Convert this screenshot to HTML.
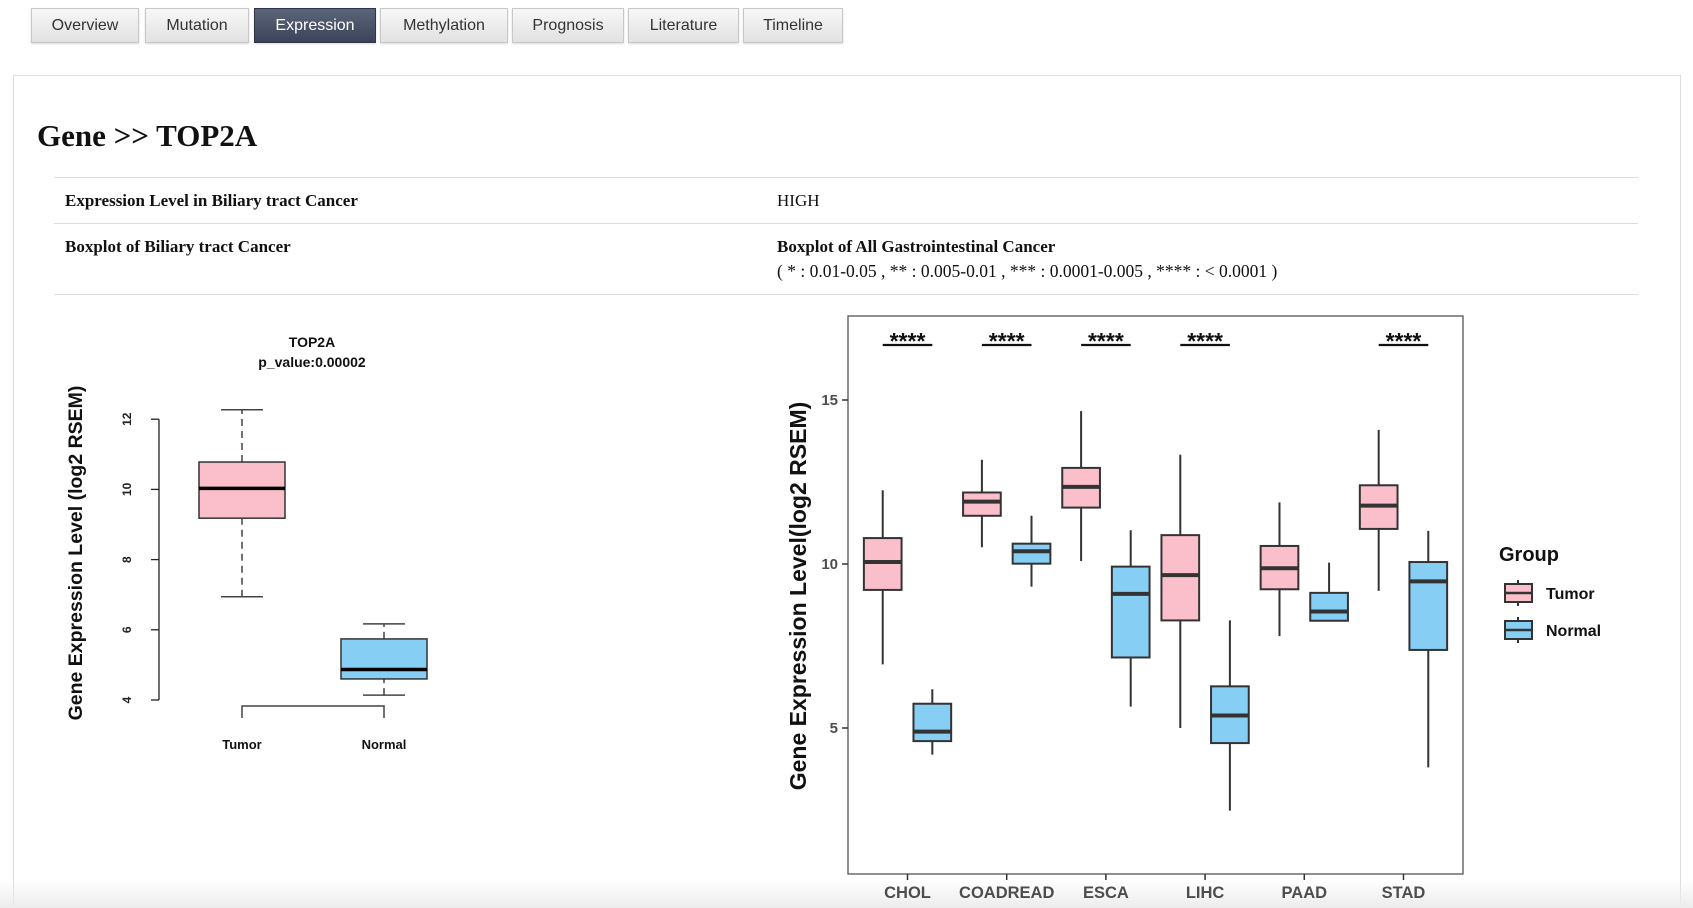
<!DOCTYPE html>
<html><head><meta charset="utf-8"><style>
html,body{margin:0;width:1693px;height:908px;overflow:hidden;background:#fff;font-family:"Liberation Sans",sans-serif;position:relative}
.tab{position:absolute;top:8px;height:35px;box-sizing:border-box;border:1px solid #c8c8c8;background:linear-gradient(#f7f7f7,#e2e2e2);color:#333;font-size:16px;line-height:33px;text-align:center;box-shadow:0 1px 2px rgba(0,0,0,.15)}
.tab.active{background:linear-gradient(#5b6579,#3b4458);color:#fff;border-color:#2f3747}
.panel{position:absolute;left:13px;top:75px;width:1668px;height:833px;border:1px solid #ddd;border-bottom:none;box-sizing:border-box}
.serif{font-family:"Liberation Serif",serif;position:absolute;color:#111}
.rule{position:absolute;left:54px;width:1584px;height:1px;background:#ddd}
.foot{position:absolute;left:0;top:880px;width:1693px;height:28px;background:linear-gradient(rgba(240,240,240,0),#ececec)}
</style></head><body>
<div class="tab" style="left:31px;width:108px">Overview</div>
<div class="tab" style="left:145px;width:104px">Mutation</div>
<div class="tab active" style="left:254px;width:122px">Expression</div>
<div class="tab" style="left:380px;width:128px">Methylation</div>
<div class="tab" style="left:512px;width:112px">Prognosis</div>
<div class="tab" style="left:628px;width:111px">Literature</div>
<div class="tab" style="left:743px;width:100px">Timeline</div>
<div class="panel"></div>
<div class="serif" style="left:37px;top:118px;font-size:31px;font-weight:bold">Gene &gt;&gt; TOP2A</div>
<div class="rule" style="top:177px"></div>
<div class="serif" style="left:65px;top:191px;font-size:17px;font-weight:bold">Expression Level in Biliary tract Cancer</div>
<div class="serif" style="left:777px;top:191px;font-size:17px">HIGH</div>
<div class="rule" style="top:223px"></div>
<div class="serif" style="left:65px;top:237px;font-size:17px;font-weight:bold">Boxplot of Biliary tract Cancer</div>
<div class="serif" style="left:777px;top:237px;font-size:17px;font-weight:bold">Boxplot of All Gastrointestinal Cancer</div>
<div class="serif" style="left:777px;top:261px;font-size:17.5px">( * : 0.01-0.05 , ** : 0.005-0.01 , *** : 0.0001-0.005 , **** : &lt; 0.0001 )</div>
<div class="rule" style="top:294px"></div>
<div class="foot"></div>
<svg id="s" width="1693" height="908" style="position:absolute;left:0;top:0" font-family="Liberation Sans, sans-serif"></svg>
<script>
// Left chart data
const leftGroups=["Tumor","Normal"];
const leftStats=[[6.94,9.18,10.03,10.78,12.27],[4.14,4.6,4.87,5.74,6.17]];
const leftTicks=[4,6,8,10,12];
// Right chart data
const cats=["CHOL","COADREAD","ESCA","LIHC","PAAD","STAD"];
const tumorStats=[[6.94,9.21,10.06,10.79,12.25],[10.51,11.47,11.9,12.18,13.18],[10.09,11.72,12.35,12.93,14.66],[5.0,8.28,9.66,10.88,13.33],[7.8,9.23,9.87,10.55,11.88],[9.18,11.07,11.78,12.4,14.09]];
const normalStats=[[4.19,4.6,4.89,5.74,6.18],[9.31,10.01,10.39,10.62,11.47],[5.65,7.15,9.09,9.92,11.03],[2.48,4.54,5.38,6.27,8.28],[8.27,8.27,8.55,9.12,10.04],[3.8,7.38,9.47,10.06,11.01]];
const sigLabels=["****","****","****","****","","****"];
const rightTicks=[5,10,15];

const s=document.getElementById('s');const NS='http://www.w3.org/2000/svg';
function mk(t,a,txt){const e=document.createElementNS(NS,t);for(const k in a)e.setAttribute(k,a[k]);if(txt!=null)e.textContent=txt;s.appendChild(e);return e;}
// LEFT
const ly=v=>700-(v-4)*35.1;const lx=[242,384];const lw=86;
let e;
e=mk('line',{x1:159,x2:159,y1:ly(12),y2:ly(4),stroke:'#222','stroke-width':1.3});

leftTicks.forEach(t=>{e=mk('line',{x1:151,x2:159,y1:ly(t),y2:ly(t),stroke:'#222','stroke-width':1.3});

e=mk('text',{x:0,y:0,transform:`translate(131,${ly(t)}) rotate(-90)`,'text-anchor':'middle','font-size':12,'font-weight':'bold',fill:'#222'},t);
});
leftStats.forEach((st,i)=>{const x=lx[i],fill=i?'#87cef5':'#fbbfcb';
[[st[0],st[1]],[st[3],st[4]]].forEach(p=>{e=mk('line',{x1:x,x2:x,y1:ly(p[0]),y2:ly(p[1]),stroke:'#444','stroke-width':1.5,'stroke-dasharray':'7,5'});
});
[st[0],st[4]].forEach(v=>{e=mk('line',{x1:x-21,x2:x+21,y1:ly(v),y2:ly(v),stroke:'#444','stroke-width':1.5});
});
e=mk('rect',{x:x-lw/2,y:ly(st[3]),width:lw,height:ly(st[1])-ly(st[3]),fill:fill,stroke:'#333','stroke-width':1.5});

e=mk('line',{x1:x-lw/2,x2:x+lw/2,y1:ly(st[2]),y2:ly(st[2]),stroke:'#000','stroke-width':3.5});

e=mk('text',{x:x,y:749,'text-anchor':'middle','font-size':13,'font-weight':'bold',fill:'#111'},leftGroups[i]);
});
e=mk('path',{d:`M${lx[0]},718V706H${lx[1]}V718`,fill:'none',stroke:'#444','stroke-width':1.5});

e=mk('text',{x:312,y:347,'text-anchor':'middle','font-size':14,'font-weight':'bold',fill:'#111'},'TOP2A');

e=mk('text',{x:312,y:367,'text-anchor':'middle','font-size':14,'font-weight':'bold',fill:'#111'},'p_value:0.00002');

e=mk('text',{x:0,y:0,transform:'translate(82,553) rotate(-90)','text-anchor':'middle','font-size':19.5,'font-weight':'bold',fill:'#111'},'Gene Expression Level (log2 RSEM)');

// RIGHT
const L=848,R=1463,T=316,B=874;const step=(R-L)/6.2;
const rx=i=>L+step*(0.6+i);const ry=v=>564-(v-10)*32.8;const bw=step*0.38,off=step*0.25;
e=mk('rect',{x:L,y:T,width:R-L,height:B-T,fill:'#fff',stroke:'#555','stroke-width':1.3});

rightTicks.forEach(t=>{e=mk('line',{x1:842,x2:L,y1:ry(t),y2:ry(t),stroke:'#333','stroke-width':1.5});

e=mk('text',{x:838,y:ry(t)+5,'text-anchor':'end','font-size':15,'font-weight':'bold',fill:'#4d4d4d'},t);
});
function box(x,st,fill,nm){
e=mk('line',{x1:x,x2:x,y1:ry(st[0]),y2:ry(st[4]),stroke:'#333','stroke-width':2});

e=mk('rect',{x:x-bw/2,y:ry(st[3]),width:bw,height:ry(st[1])-ry(st[3]),fill:fill,stroke:'#333','stroke-width':2});

e=mk('line',{x1:x-bw/2,x2:x+bw/2,y1:ry(st[2]),y2:ry(st[2]),stroke:'#333','stroke-width':4});
}
cats.forEach((c,i)=>{const x=rx(i);
box(x-off,tumorStats[i],'#fbbfcb','tumor-'+c.toLowerCase());
box(x+off,normalStats[i],'#87cef5','normal-'+c.toLowerCase());
e=mk('line',{x1:x,x2:x,y1:B,y2:B+6,stroke:'#333','stroke-width':1.5});

e=mk('text',{x:x,y:898,'text-anchor':'middle','font-size':16.5,'font-weight':'bold',fill:'#4d4d4d'},c);

if(sigLabels[i]){e=mk('text',{x:x,y:349,'text-anchor':'middle','font-size':23,'font-weight':'bold',fill:'#111'},sigLabels[i]);

e=mk('line',{x1:x-off,x2:x+off,y1:345,y2:345,stroke:'#111','stroke-width':2.2});
}});
e=mk('text',{x:0,y:0,transform:'translate(806,596) rotate(-90)','text-anchor':'middle','font-size':23,'font-weight':'bold',fill:'#111'},'Gene Expression Level(log2 RSEM)');

e=mk('text',{x:1499,y:561,'font-size':20,'font-weight':'bold',fill:'#111'},'Group');

[['Tumor','#fbbfcb',593],['Normal','#87cef5',630]].forEach(g=>{const cy=g[2];
e=mk('line',{x1:1518,x2:1518,y1:cy-13,y2:cy+13,stroke:'#333','stroke-width':2});

e=mk('rect',{x:1505,y:cy-9,width:27,height:18,fill:g[1],stroke:'#333','stroke-width':2});

e=mk('line',{x1:1505,x2:1532,y1:cy,y2:cy,stroke:'#333','stroke-width':2.5});

e=mk('text',{x:1546,y:cy+6,'font-size':16,'font-weight':'bold',fill:'#111'},g[0]);
});
</script>
</body></html>
